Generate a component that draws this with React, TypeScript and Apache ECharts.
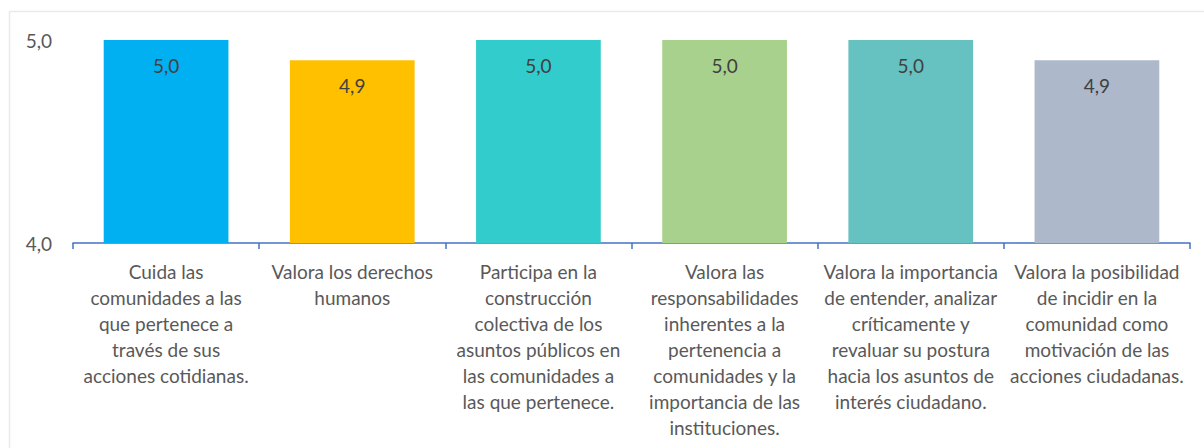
import React, { useEffect, useRef } from "react";
import * as echarts from "echarts";

const categories = [
  "Cuida las\ncomunidades a las\nque pertenece a\ntravés de sus\nacciones cotidianas.",
  "Valora los derechos\nhumanos",
  "Participa en la\nconstrucción\ncolectiva de los\nasuntos públicos en\nlas comunidades a\nlas que pertenece.",
  "Valora las\nresponsabilidades\ninherentes a la\npertenencia a\ncomunidades y la\nimportancia de las\ninstituciones.",
  "Valora la importancia\nde entender, analizar\ncríticamente y\nrevaluar su postura\nhacia los asuntos de\ninterés ciudadano.",
  "Valora la posibilidad\nde incidir en la\ncomunidad como\nmotivación de las\nacciones ciudadanas.",
];
const values = [5.0, 4.9, 5.0, 5.0, 5.0, 4.9];
const barColors = ["#00B0F0", "#FFC000", "#33CCCC", "#A9D18E", "#66C2C0", "#ADB9CA"];

const fmt = (v: number) => v.toFixed(1).replace(".", ",");

export default function App() {
  const ref = useRef<HTMLDivElement>(null);
  useEffect(() => {
    if (!ref.current) return;
    const chart = echarts.init(ref.current, null, { renderer: "svg" });
    const font = "Lato, 'Open Sans', sans-serif";
    chart.setOption({
      animation: false,
      backgroundColor: "#ffffff",
      textStyle: { fontFamily: font },
      graphic: [
        {
          type: "rect",
          shape: { x: 9.5, y: 11.5, width: 1300, height: 500 },
          style: { fill: "none", stroke: "#EAEAEA", lineWidth: 1.5 },
          silent: true,
          z: -1,
        },
      ],
      grid: { left: 73, right: 14, top: 40, bottom: 205, containLabel: false },
      xAxis: {
        type: "category",
        data: categories,
        axisLine: { lineStyle: { color: "#4472C4", width: 1.5 } },
        axisTick: { show: true, alignWithLabel: false, length: 6, lineStyle: { color: "#4472C4", width: 1.5 } },
        axisLabel: {
          interval: 0,
          color: "#595959",
          fontSize: 19,
          lineHeight: 26,
          margin: 15,
          fontFamily: font,
          align: "center",
        },
      },
      yAxis: {
        type: "value",
        min: 4,
        max: 5,
        interval: 1,
        splitLine: { show: false },
        axisLine: { show: false },
        axisTick: { show: false },
        axisLabel: {
          color: "#595959",
          fontSize: 19,
          margin: 21,
          fontFamily: font,
          formatter: (v: number) => fmt(v),
        },
      },
      series: [
        {
          type: "bar",
          data: values.map((v, i) => ({ value: v, itemStyle: { color: barColors[i] } })),
          barWidth: "67%",
          label: {
            show: true,
            position: "insideTop",
            distance: 16,
            color: "#404040",
            fontSize: 19,
            fontFamily: font,
            formatter: (p: any) => fmt(p.value),
          },
        },
      ],
    });
    return () => chart.dispose();
  }, []);
  return (
    <div
      ref={ref}
      style={{ position: "fixed", left: 0, top: 0, width: 1204, height: 448 }}
    />
  );
}
